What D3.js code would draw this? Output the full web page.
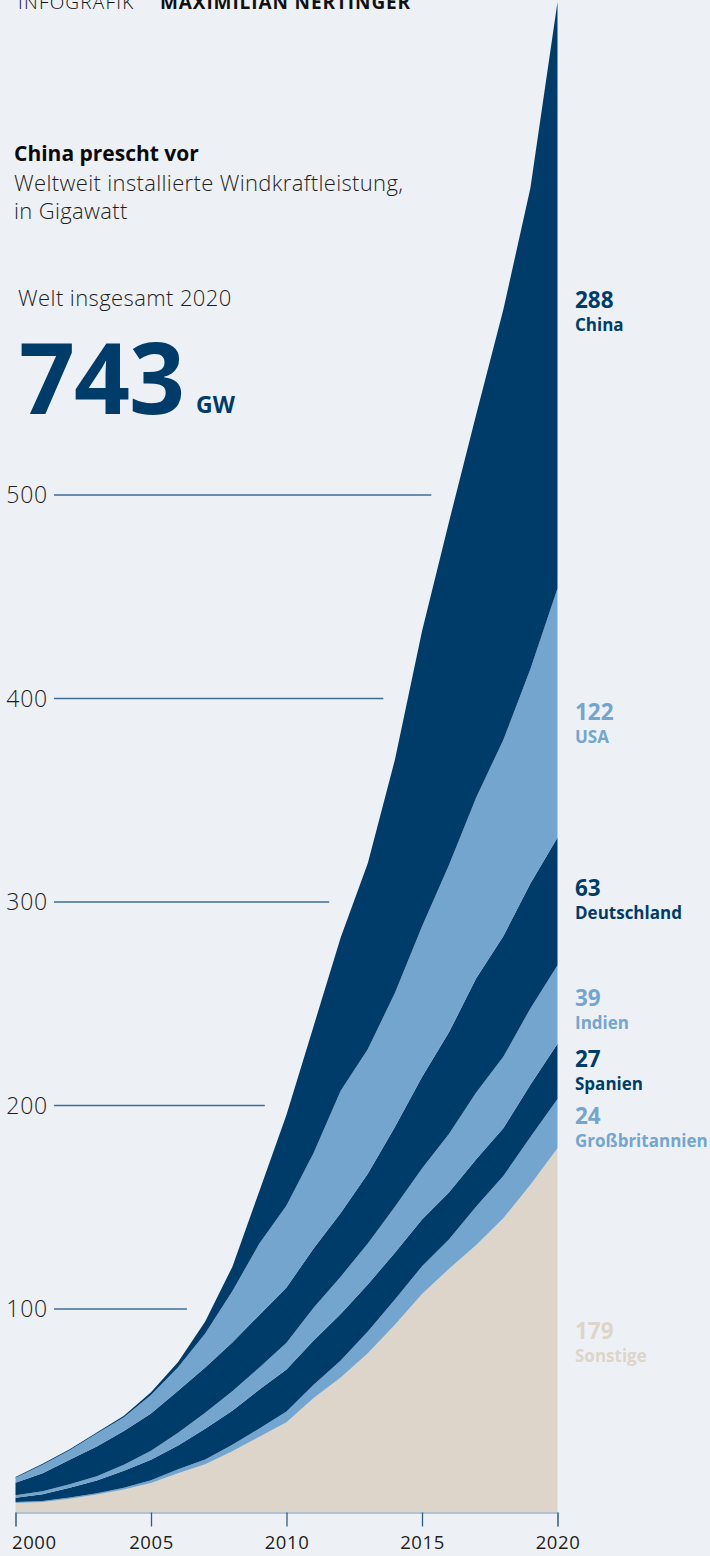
<!DOCTYPE html>
<html>
<head>
<meta charset="utf-8">
<script src="https://cdnjs.cloudflare.com/ajax/libs/d3/7.8.5/d3.min.js"></script>
<style>
  html, body { margin:0; padding:0; background:#edf1f5; }
  svg { display:block; font-family:"Open Sans", "Noto Sans", sans-serif; }
</style>
</head>
<body>
<svg id="chart" width="710" height="1556"></svg>
<script>
// Weltweit installierte Windkraftleistung, GW (kumuliert)
var years       = [2000,2001,2002,2003,2004,2005,2006,2007,2008,2009,2010,2011,2012,2013,2014,2015,2016,2017,2018,2019,2020];
var china       = [0.35,0.4,0.47,0.57,0.76,1.26,2.6,5.9,12.0,25.8,44.7,62.4,75.3,91.4,114.6,145.1,168.7,188.2,211.4,236.3,288.3];
var usa         = [2.5,4.2,4.7,6.4,6.7,9.1,11.6,16.8,25.2,35.1,40.2,46.9,60.0,61.1,65.9,73.9,82.2,88.9,96.4,105.4,122.3];
var deutschland = [6.1,8.8,12.0,14.6,16.6,18.4,20.6,22.2,23.9,25.8,27.2,29.1,31.3,34.3,39.2,44.9,50.0,56.1,59.3,61.4,62.8];
var indien      = [1.2,1.5,1.7,2.1,3.0,4.4,6.3,7.8,9.6,10.9,13.1,16.1,18.4,20.2,22.5,25.1,28.7,32.8,35.1,37.5,38.6];
var spanien     = [2.2,3.3,4.8,6.2,8.3,10.0,11.6,15.1,16.7,19.1,20.7,21.7,22.8,23.0,23.0,23.0,23.1,23.2,23.5,25.7,27.1];
var gb          = [0.4,0.5,0.6,0.7,0.9,1.4,2.0,2.4,3.2,4.1,5.2,6.5,8.4,10.7,12.4,13.6,14.5,18.9,20.7,23.5,24.2];
var sonstige    = [4.7,5.2,6.8,8.8,11.3,14.5,19.3,23.7,30.1,37.2,44.4,56.3,66.3,78.3,92.3,107.4,119.8,131.5,144.6,161.0,179.0];

var yTicks = [100,200,300,400,500];
var xTicks = [2000,2005,2010,2015,2020];
var labelNames  = ['China','USA','Deutschland','Indien','Spanien','Großbritannien','Sonstige'];
var labelValues = [288,122,63,39,27,24,179];
var worldTotal = 743;

var dark='#003c69', light='#74a5cf', beige='#ddd5c9';
var keys = ['Sonstige','Großbritannien','Spanien','Indien','Deutschland','USA','China'];
var colors = {China:dark, USA:light, Deutschland:dark, Indien:light, Spanien:dark, 'Großbritannien':light, Sonstige:beige};
// kleine Verschiebung der Beschriftungen, damit sie sich nicht überlappen
var labelNudge = {China:13, USA:7, Deutschland:-5, Indien:1, Spanien:-4, 'Großbritannien':0, Sonstige:9};

var rows = years.map(function(y,i){
  return {year:y, China:china[i], USA:usa[i], Deutschland:deutschland[i], Indien:indien[i],
          Spanien:spanien[i], 'Großbritannien':gb[i], Sonstige:sonstige[i]};
});

var svg = d3.select('#chart');
svg.append('rect').attr('width',710).attr('height',1556).attr('fill','#edf1f5');

var x = d3.scaleLinear().domain([2000,2020]).range([15.5,557.5]);
var y = d3.scaleLinear().domain([0,500]).range([1512.5,495]);

var series = d3.stack().keys(keys)(rows);

// Gitterlinien, enden kurz vor der Fläche
var topLayer = series[series.length-1];
function crossX(v){
  for (var i=1;i<topLayer.length;i++){
    if (topLayer[i][1]>=v){
      var a=topLayer[i-1], b=topLayer[i], f=(v-a[1])/(b[1]-a[1]);
      return x(a.data.year + f*(b.data.year-a.data.year));
    }
  }
  return x(2020);
}
var grid = svg.append('g');
yTicks.forEach(function(t){
  grid.append('line')
    .attr('x1',54).attr('x2',crossX(t)-24.5)
    .attr('y1',y(t)).attr('y2',y(t))
    .style('stroke','#3f6d98').style('stroke-width',1.3);
  grid.append('text')
    .attr('x',48).attr('y',y(t)+8)
    .style('text-anchor','end')
    .style('font-size','23px').style('font-weight',300).style('fill','#1e1e1e')
    .style('letter-spacing','0.8px')
    .text(t);
});

var area = d3.area()
  .x(function(d){ return x(d.data.year); })
  .y0(function(d){ return y(d[0]); })
  .y1(function(d){ return y(d[1]); });

svg.append('g').selectAll('path')
  .data(series).enter().append('path')
  .attr('d',area)
  .style('fill',function(d){ return colors[d.key]; });

// x-Achse
var ax = svg.append('g').attr('transform','translate(0,'+y(0)+')')
  .call(d3.axisBottom(x).tickValues(xTicks).tickFormat(d3.format('d')).tickSize(14).tickPadding(7));
ax.select('.domain').style('stroke','#9fb6cb').style('stroke-width',1.5);
ax.selectAll('.tick line').style('stroke','#2d5e88').style('stroke-width',1.3);
ax.selectAll('.tick text')
  .style('font-family','"Open Sans", sans-serif').style('font-size','18.5px')
  .style('letter-spacing','0.6px')
  .style('fill','#1e1e1e')
  .attr('dy','0.85em');
ax.selectAll('.tick text').filter(function(d){ return d===2000; })
  .style('text-anchor','start').attr('x',-4);

// Beschriftungen rechts
var last = rows.length-1;
labelNames.forEach(function(name,i){
  var s = series[keys.indexOf(name)];
  var mid = (y(s[last][0])+y(s[last][1]))/2 + labelNudge[name];
  var g = svg.append('g').attr('transform','translate(575,'+mid+')');
  g.append('text').attr('y',0)
    .style('font-size','22.5px').style('font-weight',700).style('fill',colors[name])
    .text(labelValues[i]);
  g.append('text').attr('y',23)
    .style('font-size','17px').style('font-weight',700).style('fill',colors[name])
    .text(name);
});

// Kopf
var hd = svg.append('text').attr('x',18).attr('y',9)
  .style('font-size','19px').style('letter-spacing','1.2px').style('fill','#111');
hd.append('tspan').style('font-weight',300).text('INFOGRAFIK');
hd.append('tspan').attr('x',160).style('font-weight',700).style('letter-spacing','0.9px').text('MAXIMILIAN NERTINGER');

svg.append('text').attr('x',14).attr('y',161)
  .style('font-size','21px').style('font-weight',700).style('fill','#0a0a0a')
  .text('China prescht vor');
svg.append('text').attr('x',14).attr('y',191)
  .style('font-size','22px').style('font-weight',300).style('fill','#1e1e1e')
  .style('letter-spacing','0.35px')
  .text('Weltweit installierte Windkraftleistung,');
svg.append('text').attr('x',14).attr('y',219)
  .style('font-size','22px').style('font-weight',300).style('fill','#1e1e1e')
  .style('letter-spacing','0.35px')
  .text('in Gigawatt');

svg.append('text').attr('x',18).attr('y',306)
  .style('font-size','22px').style('font-weight',300).style('fill','#1e1e1e')
  .style('letter-spacing','0.4px')
  .text('Welt insgesamt 2020');
svg.append('text').attr('x',19).attr('y',414)
  .style('font-size','98px').style('font-weight',700).style('fill',dark)
  .style('letter-spacing','-1px')
  .text(worldTotal);
svg.append('text').attr('x',196).attr('y',413)
  .style('font-size','23px').style('font-weight',700).style('fill',dark)
  .text('GW');
</script>
</body>
</html>
